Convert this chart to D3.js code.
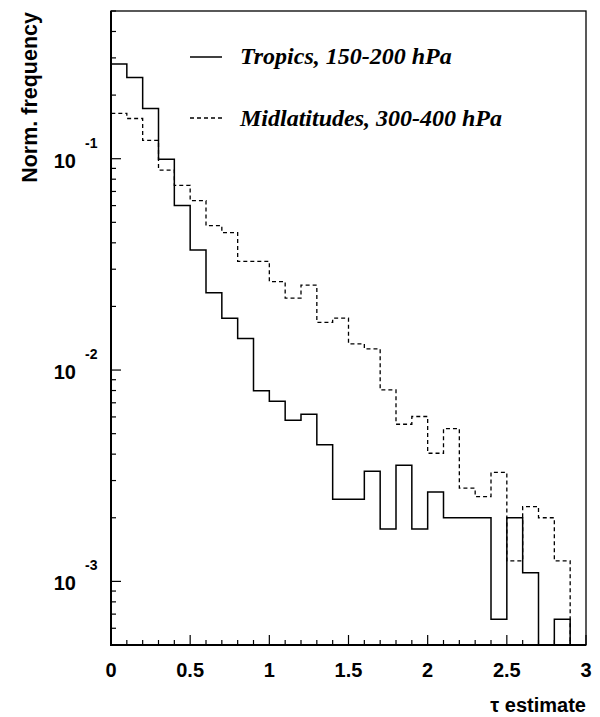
<!DOCTYPE html>
<html>
<head>
<meta charset="utf-8">
<script src="https://cdn.jsdelivr.net/npm/d3@7"></script>
<style>
  html, body { margin: 0; padding: 0; background: #fff; }
  svg { display: block; }
  .sans { font-family: "Liberation Sans", Arial, Helvetica, sans-serif; font-weight: bold; }
  .serif { font-family: "Liberation Serif", "Times New Roman", serif; font-weight: bold; font-style: italic; }
</style>
</head>
<body>
<script>
// ---- data ----
const binStarts = [0.0, 0.1, 0.2, 0.3, 0.4, 0.5, 0.6, 0.7, 0.8, 0.9,
                   1.0, 1.1, 1.2, 1.3, 1.4, 1.5, 1.6, 1.7, 1.8, 1.9,
                   2.0, 2.1, 2.2, 2.3, 2.4, 2.5, 2.6, 2.7, 2.8, 2.9];
const binWidth = 0.1;
const tropics = [0.281, 0.242, 0.173, 0.0994, 0.0600, 0.0370, 0.0232, 0.0176, 0.0141, 0.00799,
                 0.00711, 0.00578, 0.00617, 0.00443, 0.00245, 0.00245, 0.00332, 0.00177, 0.00354, 0.00177,
                 0.00265, 0.00200, 0.00200, 0.00200, 0.000662, 0.00200, 0.00110, 0, 0.000662, 0];
const midlat = [0.164, 0.155, 0.122, 0.0884, 0.0748, 0.0633, 0.0482, 0.0447, 0.0327, 0.0327,
                0.0262, 0.0219, 0.0252, 0.0168, 0.0176, 0.0133, 0.0126, 0.00805, 0.00554, 0.00603,
                0.00404, 0.00528, 0.00276, 0.00252, 0.00328, 0.00125, 0.00226, 0.00200, 0.00125, 0];
const seriesNames = ["Tropics, 150-200 hPa", "Midlatitudes, 300-400 hPa"];
const xTickValues = [0, 0.5, 1, 1.5, 2, 2.5, 3];
const xTickLabels = ["0", "0.5", "1", "1.5", "2", "2.5", "3"];
const yMajorTicks = [1e-3, 1e-2, 1e-1];
const yMajorExponents = ["-3", "-2", "-1"];
const xLabel = "\u03c4 estimate";
const yLabel = "Norm. frequency";

// ---- layout ----
const W = 600, H = 717;
const L = 111, R = 586, T = 11, B = 645;

const svg = d3.select("body").append("svg").attr("width", W).attr("height", H);

const x = d3.scaleLinear().domain([0, 3]).range([L, R]);
const y = d3.scaleLog().domain([5e-4, 0.5]).range([B, T]);
const yv = v => (v > 0 ? Math.max(T, Math.min(B, y(v))) : B);

// histogram step paths
function stepPath(vals) {
  const p = d3.path();
  p.moveTo(x(binStarts[0]), B);
  vals.forEach((v, i) => {
    p.lineTo(x(binStarts[i]), yv(v));
    p.lineTo(x(binStarts[i] + binWidth), yv(v));
  });
  p.lineTo(x(binStarts[binStarts.length - 1] + binWidth), B);
  return p.toString();
}

svg.append("path").attr("d", stepPath(midlat))
  .attr("fill", "none").attr("stroke", "#000").attr("stroke-width", 1.3)
  .attr("stroke-dasharray", "4,3");
svg.append("path").attr("d", stepPath(tropics))
  .attr("fill", "none").attr("stroke", "#000").attr("stroke-width", 1.5);

// frame
svg.append("rect").attr("x", L).attr("y", T).attr("width", R - L).attr("height", B - T)
  .attr("fill", "none").attr("stroke", "#000").attr("stroke-width", 1.3);
svg.append("line").attr("x1", L).attr("x2", L).attr("y1", T).attr("y2", B + 1)
  .attr("stroke", "#000").attr("stroke-width", 2);
svg.append("line").attr("x1", L - 1).attr("x2", R).attr("y1", B).attr("y2", B)
  .attr("stroke", "#000").attr("stroke-width", 2);

// x ticks (inside)
const xMinor = d3.range(0, 31).map(i => i / 10);
svg.append("g").selectAll("line").data(xMinor).join("line")
  .attr("x1", d => x(d)).attr("x2", d => x(d))
  .attr("y1", B).attr("y2", d => (Math.abs(d * 2 - Math.round(d * 2)) < 1e-6 ? B - 10 : B - 5))
  .attr("stroke", "#000").attr("stroke-width", 1.2);
svg.append("g").selectAll("text").data(xTickValues).join("text")
  .attr("class", "sans").attr("x", d => x(d)).attr("y", 677)
  .attr("text-anchor", "middle").attr("font-size", 20)
  .text((d, i) => xTickLabels[i]);

// y ticks (inside)
const yMinor = [];
[1e-4, 1e-3, 1e-2, 1e-1].forEach(dec => {
  for (let k = 2; k <= 9; k++) {
    const v = k * dec;
    if (v >= 5e-4 && v <= 0.5) yMinor.push(v);
  }
});
svg.append("g").selectAll("line").data(yMinor).join("line")
  .attr("x1", L).attr("x2", L + 5).attr("y1", d => y(d)).attr("y2", d => y(d))
  .attr("stroke", "#000").attr("stroke-width", 1.2);
svg.append("g").selectAll("line").data(yMajorTicks).join("line")
  .attr("x1", L).attr("x2", L + 10).attr("y1", d => y(d)).attr("y2", d => y(d))
  .attr("stroke", "#000").attr("stroke-width", 1.2);
const yl = svg.append("g").selectAll("g").data(yMajorTicks).join("g")
  .attr("transform", d => `translate(0,${y(d)})`);
yl.append("text").attr("class", "sans").attr("x", 76).attr("y", 9)
  .attr("text-anchor", "end").attr("font-size", 20).text("10");
yl.append("text").attr("class", "sans").attr("x", 85).attr("y", -11)
  .attr("font-size", 14).text((d, i) => yMajorExponents[i]);

// axis titles
svg.append("text").attr("class", "sans").attr("font-size", 21.5)
  .attr("text-anchor", "end")
  .attr("transform", `translate(37,12) rotate(-90)`)
  .text(yLabel);
svg.append("text").attr("class", "sans").attr("font-size", 20)
  .attr("text-anchor", "end").attr("x", 586).attr("y", 712)
  .text(xLabel);

// legend
const legend = [
  { name: seriesNames[0], dash: null, y: 57, ty: 64 },
  { name: seriesNames[1], dash: "4,3", y: 118, ty: 126 }
];
legend.forEach(l => {
  svg.append("line").attr("x1", 190).attr("x2", 222).attr("y1", l.y).attr("y2", l.y)
    .attr("stroke", "#000").attr("stroke-width", l.dash ? 1.3 : 1.5)
    .attr("stroke-dasharray", l.dash);
  svg.append("text").attr("class", "serif").attr("x", 240).attr("y", l.ty)
    .attr("font-size", 24).text(l.name);
});
</script>
</body>
</html>
